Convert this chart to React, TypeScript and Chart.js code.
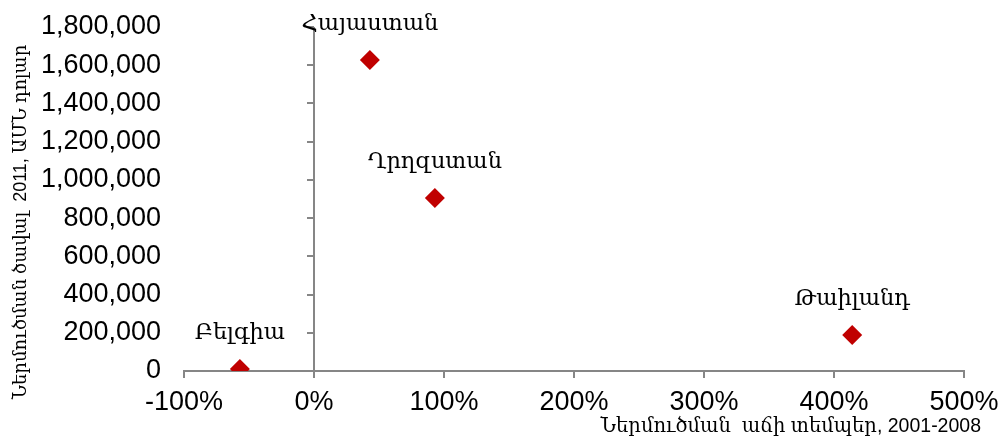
import React, { useEffect, useRef } from 'react';
import { Chart, registerables } from 'chart.js';

Chart.register(...registerables);

const countries = ['Բելգիա', 'Հայաստան', 'Ղրղզստան', 'Թաիլանդ'];
const growthPct = [-57, 43, 93, 414];
const importVolume = [10000, 1627000, 905000, 188000];

const xMin = -100;
const xMax = 500;
const xStep = 100;
const yMin = 0;
const yMax = 1800000;
const yStep = 200000;

const xTitle = 'Ներմուծման  աճի տեմպեր, 2001-2008';
const yTitle = 'Ներմուծման ծավալ  2011, ԱՄՆ դոլար';

const AXIS_COLOR = '#868686';
const POINT_COLOR = '#C00000';
const SANS = '"Liberation Sans", Arial, sans-serif';
const MIXED = '"Liberation Sans", "DejaVu Serif", serif';
const SERIF = '"DejaVu Serif", serif';

const customPlugin = {
  id: 'customDecor',
  beforeDatasetsDraw(chart: any) {
    const { ctx, scales, chartArea } = chart;
    const x = scales.x;
    const y = scales.y;
    const px = Math.round(x.getPixelForValue(0));
    ctx.save();
    ctx.strokeStyle = AXIS_COLOR;
    ctx.lineWidth = 2;
    ctx.beginPath();
    ctx.moveTo(px, chartArea.top);
    ctx.lineTo(px, chartArea.bottom);
    y.ticks.forEach((t: any) => {
      const py = Math.round(y.getPixelForValue(t.value));
      ctx.moveTo(px - 7, py);
      ctx.lineTo(px, py);
    });
    ctx.stroke();
    ctx.restore();
  },
  afterDatasetsDraw(chart: any) {
    const { ctx } = chart;
    const meta = chart.getDatasetMeta(0);
    ctx.save();
    ctx.fillStyle = '#000';
    ctx.font = '22.5px ' + SERIF;
    ctx.textAlign = 'center';
    ctx.textBaseline = 'alphabetic';
    meta.data.forEach((el: any, i: number) => {
      ctx.fillText(countries[i], el.x, el.y - 30);
    });
    // axis titles
    ctx.font = '19.5px ' + MIXED;
    ctx.textAlign = 'right';
    ctx.textBaseline = 'middle';
    ctx.fillText(xTitle, 981, 427);
    ctx.translate(21, 222);
    ctx.rotate(-Math.PI / 2);
    ctx.textAlign = 'center';
    ctx.font = '18px ' + MIXED;
    ctx.fillText(yTitle, 0, 0);
    ctx.restore();
  },
};

export default function App() {
  const canvasRef = useRef<HTMLCanvasElement | null>(null);

  useEffect(() => {
    if (!canvasRef.current) return;
    const chart = new Chart(canvasRef.current, {
      type: 'scatter',
      data: {
        datasets: [
          {
            data: growthPct.map((g, i) => ({ x: g, y: importVolume[i] })),
            pointStyle: 'rectRot',
            pointRadius: 10,
            pointHoverRadius: 10,
            backgroundColor: POINT_COLOR,
            borderColor: POINT_COLOR,
            borderWidth: 0,
          },
        ],
      },
      options: {
        animation: false,
        responsive: true,
        maintainAspectRatio: false,
        layout: { padding: { top: 27, right: 36, left: 0, bottom: 0 } },
        plugins: {
          legend: { display: false },
          tooltip: { enabled: false },
        },
        scales: {
          x: {
            type: 'linear',
            min: xMin,
            max: xMax,
            afterFit: (s: any) => {
              s.height = 70;
              s.paddingLeft = 0;
              s.paddingRight = 0;
            },
            border: { display: true, color: AXIS_COLOR, width: 2 },
            grid: {
              drawOnChartArea: false,
              drawTicks: true,
              tickLength: 7,
              color: AXIS_COLOR,
              lineWidth: 2,
            },
            ticks: {
              stepSize: xStep,
              padding: 8,
              color: '#000',
              font: { family: SANS, size: 27 },
              callback: (v: any) => `${v}%`,
            },
          },
          y: {
            type: 'linear',
            min: yMin,
            max: yMax,
            afterFit: (s: any) => {
              s.width = 184;
              s.paddingTop = 0;
              s.paddingBottom = 0;
            },
            border: { display: false },
            grid: { display: false, drawTicks: false },
            ticks: {
              stepSize: yStep,
              padding: 23,
              color: '#000',
              font: { family: SANS, size: 27 },
              callback: (v: any) => Number(v).toLocaleString('en-US'),
            },
          },
        },
      },
      plugins: [customPlugin],
    });
    return () => chart.destroy();
  }, []);

  return (
    <div style={{ position: 'absolute', left: 0, top: 0, width: 1000, height: 441 }}>
      <canvas ref={canvasRef} />
    </div>
  );
}
